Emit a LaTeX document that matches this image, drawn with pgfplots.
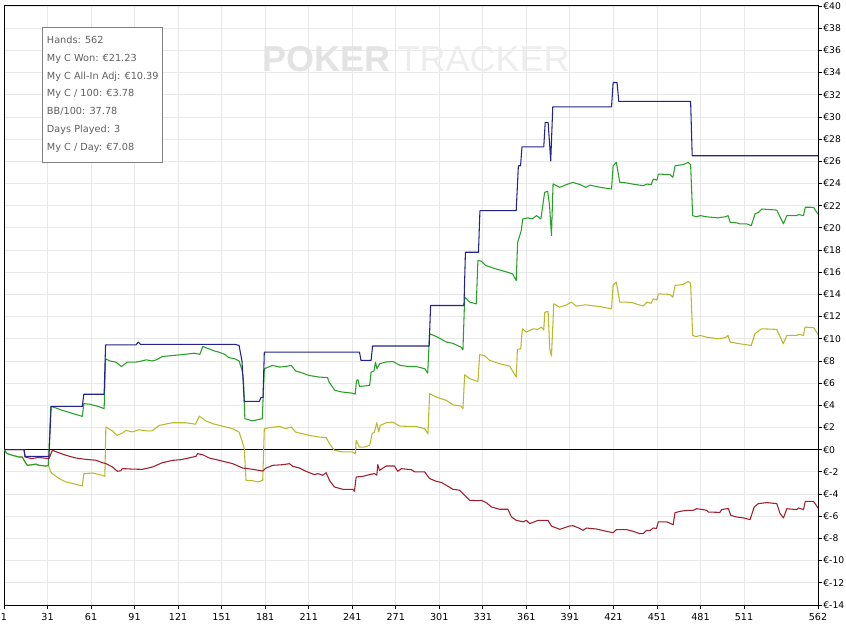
\documentclass[border=0pt]{standalone}
\usepackage{pgfplots}
\pgfplotsset{compat=1.18}
\usepackage{fontspec}
\setmainfont{DejaVu Sans}
\newfontfamily\wmfont{Liberation Sans}
\definecolor{cblue}{RGB}{35,35,140}
\definecolor{cgreen}{RGB}{40,160,40}
\definecolor{cyellow}{RGB}{185,185,45}
\definecolor{cred}{RGB}{160,30,45}
\definecolor{cgrid}{RGB}{232,232,232}
\definecolor{ctext}{RGB}{96,96,96}
\begin{document}
\begin{tikzpicture}
\begin{axis}[
  scale only axis,
  width=610.5pt, height=449.25pt,
  xmin=1, xmax=562, ymin=-14, ymax=40,
  xtick={1,31,61,91,121,151,181,211,241,271,301,331,361,391,421,451,481,511,562},
  ytick={-14,-12,...,40},
  yticklabels={€-14,€-12,€-10,€-8,€-6,€-4,€-2,€0,€2,€4,€6,€8,€10,€12,€14,€16,€18,€20,€22,€24,€26,€28,€30,€32,€34,€36,€38,€40},
  /pgf/number format/assume math mode=true,
  ytick pos=right, xtick pos=bottom,
  yticklabel pos=right,
  tick align=outside,
  major tick length=3pt,
  tick style={black, line width=0.6pt},
  axis line style={black, line width=0.75pt},
  grid=major,
  major grid style={cgrid, line width=0.6pt},
  tick label style={font=\fontsize{7.2}{8}\selectfont, text=black},
  yticklabel style={font=\fontsize{6.9}{8}\selectfont, inner xsep=0.8pt},
  every axis plot/.append style={line width=0.8pt, line join=round},
  clip=true,
]
\coordinate (tl) at (rel axis cs:0,1);
\coordinate (bl) at (rel axis cs:0,0);
\coordinate (tr) at (rel axis cs:1,1);
% watermark
\node[anchor=base west, inner sep=0, text=black!11, font=\wmfont\fontsize{27}{27}\selectfont\bfseries] at ([shift={(193.5pt,-49.5pt)}]tl) {POKER};
\node[anchor=base west, inner sep=0, text=black!7, font=\wmfont\fontsize{27}{27}\selectfont] at ([shift={(295pt,-49.5pt)}]tl) {TRACKER};
% zero line
\addplot[black, line width=0.75pt] coordinates {(1,0)(562,0)};
% yellow
\addplot[cyellow] coordinates {(1,0)(3.3,-0.36)(6.7,-0.5)(11.4,-0.66)(13.6,-0.66)(15.5,-1.1)(17.1,-1.41)(20.5,-1.35)(22.9,-1.3)(25.2,-1.41)(29.8,-1.47)(31.6,-1.41)(33.2,-2.0)(34.3,-2.16)(39,-2.6)(43.5,-2.9)(50,-3.1)(55,-3.27)(56,-2.16)(62,-2.1)(68.5,-2.3)(70.5,-2.4)(71.2,2.04)(75.7,1.7)(79,1.29)(82.6,1.5)(85,1.74)(89.5,1.6)(94,1.8)(99,1.7)(103,1.7)(108,2.19)(117,2.43)(126,2.43)(133,2.3)(135.6,3.03)(140,2.6)(145,2.34)(154,2.04)(158.6,1.9)(163,1.59)(165,0.8)(166.6,0.1)(167.8,-2.76)(172.4,-2.8)(176,-2.9)(179.3,-2.76)(180.4,1.89)(184,2.0)(191,2.1)(195,1.9)(199,2.04)(202,1.59)(211.5,1.29)(218,1.14)(223,1.1)(225.3,0.54)(228.7,-0.06)(234.5,-0.2)(241,-0.2)(243.2,-0.36)(243.7,0.84)(246,0.24)(249.4,0.24)(253,0.39)(254.7,1.44)(256.3,1.6)(257.9,2.43)(259.3,1.6)(260.3,2.19)(264.4,2.43)(269,2.49)(273.6,2.13)(280.5,2.1)(285,2.1)(291,1.89)(293.2,1.44)(294.3,5.05)(299,4.74)(306,4.44)(310.4,4.05)(316,3.93)(317.3,3.69)(318.5,6.76)(322,6.4)(327.6,6.15)(328.8,8.56)(332,8.5)(335.7,8.05)(342.6,7.75)(349.5,7.54)(353,6.76)(354.1,6.55)(354.8,9.04)(357.1,9.1)(358.3,10.9)(361,10.6)(365.6,10.9)(369,10.85)(371.4,11.05)(373,10.8)(373.7,12.4)(376,12.46)(377.1,9.1)(378.3,8.44)(379.9,13.15)(384,12.85)(388.6,13.05)(392,13.3)(395.5,12.95)(402,13.06)(411.6,12.9)(419.7,12.7)(420.8,14.86)(423,15.1)(425.4,13.3)(430,13.3)(434,13.25)(441.5,12.95)(444,13.3)(447,13.2)(448.5,13.6)(451,13.5)(452,14.05)(460,14.0)(462,13.75)(463.5,14.8)(469,14.9)(472.5,15.16)(474.2,15.0)(475.6,10.3)(478,10.2)(481,10.3)(485,10.15)(493,10.0)(498,10.1)(500,10.3)(501.5,9.7)(508,9.55)(516,9.4)(518.5,10.45)(523,10.9)(533.5,10.85)(536,10.15)(538,9.55)(540.5,10.3)(547.5,10.3)(548.5,10.4)(552,10.3)(553,11.05)(559,11.0)(562,10.39)};
% green
\addplot[cgreen] coordinates {(1,0)(3.3,-0.36)(6.7,-0.5)(11.4,-0.66)(13.6,-0.66)(15.5,-1.1)(17.1,-1.41)(20.5,-1.35)(22.9,-1.3)(25.2,-1.41)(29.8,-1.47)(31.6,-1.41)(33.2,3.9)(36,3.8)(40,3.6)(45,3.4)(50,3.2)(55,3.0)(56,4.15)(60,4.1)(66,3.9)(70,3.7)(71,8.2)(74,8.0)(78,7.9)(82,7.5)(86,7.9)(92,7.9)(96,8.0)(99,8.1)(103,8.0)(106,8.1)(110,8.4)(118,8.5)(126,8.6)(132,8.7)(136,8.6)(138,9.3)(142,9.1)(146,8.9)(149,8.8)(153,8.6)(156,8.3)(160,8.2)(163,8.0)(165,7.2)(166,6.4)(167,2.8)(172,2.6)(176,2.7)(179,2.8)(180.4,7.3)(186,7.6)(191,7.45)(195,7.5)(199,7.6)(202,7.1)(207,6.9)(211,6.7)(218,6.55)(224,6.5)(225,6.1)(229,5.35)(234,5.2)(241,5.1)(243,5.0)(244,6.25)(245,6.3)(246,5.7)(253,5.8)(254,7.0)(256,7.1)(257,7.9)(258,7.3)(260,7.75)(264,7.9)(269,7.95)(274,7.6)(280,7.5)(285,7.5)(291,7.3)(293,6.9)(294.3,10.45)(299,10.2)(306,9.7)(310,9.6)(316,9.25)(317.3,9.0)(318.5,13.75)(322,13.3)(326.5,13.15)(327.6,17.05)(330,17.0)(333,16.6)(340,16.3)(348,16.0)(351.5,15.85)(354,15.25)(355,18.7)(357.5,19.75)(358.5,20.8)(362,20.9)(365,20.8)(368,21.1)(371,20.8)(373.6,23.2)(375.7,23.3)(377,22.0)(378.3,19.3)(379.4,23.96)(384,23.65)(388.6,23.9)(393,24.1)(398,23.9)(402,23.65)(405,23.85)(412,23.65)(419.7,23.5)(420.8,25.6)(423,25.9)(425.4,24.1)(430,24.05)(434,23.95)(441.5,23.8)(444,23.95)(447,23.9)(448.5,24.4)(451,24.3)(452,24.85)(460,24.8)(462,24.55)(463.5,25.6)(469,25.7)(472.5,25.9)(474.2,25.7)(475.6,21.1)(478,21.0)(481,21.1)(485,21.0)(493,20.9)(498,21.0)(500,21.1)(501.5,20.5)(506,20.45)(508,20.36)(513,20.35)(516,20.2)(518.6,21.26)(521,21.4)(523.3,21.7)(533.6,21.6)(535.9,20.96)(538.2,20.36)(540.5,21.1)(547.4,21.1)(548.6,21.2)(552,21.1)(553.2,21.86)(558.9,21.85)(562,21.23)};
% red
\addplot[cred] coordinates {(1,0)(14.8,0)(15.5,-0.66)(20,-0.8)(25,-0.7)(32,-0.8)(34.3,-0.06)(43.6,-0.5)(50.5,-0.75)(57.4,-0.87)(64.3,-0.95)(68.8,-1.17)(71.2,-1.25)(75.7,-1.56)(79.2,-1.95)(81.5,-1.9)(82.6,-1.7)(89.5,-1.75)(96.4,-1.77)(103.3,-1.56)(110.2,-1.17)(117.2,-0.96)(122.9,-0.9)(126.4,-0.8)(133.3,-0.6)(134.4,-0.36)(137.9,-0.45)(142.5,-0.75)(149.4,-0.96)(158.6,-1.26)(165.5,-1.65)(172.4,-1.77)(179.3,-1.92)(181.6,-1.65)(186.2,-1.41)(193.1,-1.35)(197.7,-1.26)(200,-1.5)(204.6,-1.65)(209.2,-1.95)(214.9,-2.25)(217.2,-2.15)(220.7,-2.31)(223,-2.07)(225.3,-2.76)(228.7,-3.36)(234.5,-3.57)(241.4,-3.57)(242.5,-3.75)(243.7,-2.46)(248.3,-2.4)(252.9,-2.25)(256.3,-2.15)(257.9,-2.3)(258.6,-1.35)(259.8,-1.86)(264.4,-1.47)(270.1,-1.47)(272.4,-1.95)(274.8,-1.71)(281.7,-1.8)(284,-2.0)(290.9,-2.0)(294.3,-2.6)(298.9,-2.85)(302.4,-2.95)(305.8,-3.21)(310.4,-3.57)(315,-3.65)(317.3,-3.96)(321.9,-4.56)(327.6,-4.6)(330,-4.56)(333.4,-4.77)(336.9,-5.16)(342.6,-5.37)(348.3,-5.37)(350.7,-6.06)(354.1,-6.37)(358.7,-6.5)(361,-6.37)(363.3,-6.67)(369,-6.37)(375.9,-6.37)(378.3,-6.88)(384,-7.18)(390.9,-6.88)(393.2,-6.85)(397.8,-7.1)(400.1,-7.27)(402.4,-7.06)(409.3,-7.15)(416.2,-7.36)(420.8,-7.48)(423.1,-7.2)(430,-7.2)(434.6,-7.36)(439.2,-7.57)(441.5,-7.57)(443.8,-7.27)(446.1,-7.3)(448.4,-7.06)(450.7,-7.1)(451.9,-6.5)(457.7,-6.5)(462.2,-6.76)(463.4,-5.68)(466.8,-5.56)(471.5,-5.47)(476,-5.47)(478.4,-5.32)(482.9,-5.4)(485.3,-5.47)(486.4,-5.62)(494.4,-5.65)(495.6,-5.4)(499.1,-5.32)(500.2,-5.32)(501.9,-5.92)(506,-6.07)(510.6,-6.15)(515.2,-6.3)(518,-5.17)(520.9,-4.86)(526.7,-4.77)(533.6,-4.86)(535.9,-5.77)(538.2,-6.15)(540.5,-5.32)(547.4,-5.4)(548.6,-5.25)(552,-5.4)(553.2,-4.66)(558.9,-4.66)(562,-5.25)};
% blue
\addplot[cblue] coordinates {(1,0)(14.8,0)(15.5,-0.6)(32,-0.6)(33.5,3.9)(55,3.9)(56,5.0)(70,5.0)(71,9.45)(92,9.45)(93.5,9.7)(95,9.5)(160,9.5)(163,9.4)(165,8.0)(166.6,4.35)(177,4.35)(178,4.7)(179.5,4.7)(180.4,8.8)(246,8.8)(247,8.05)(254,8.05)(255,9.35)(294,9.35)(295,13.0)(318,13.0)(319,17.8)(328,17.8)(329,21.55)(354,21.55)(355.5,25.6)(357,25.6)(358,27.3)(373,27.3)(374,29.5)(376,29.5)(377.8,26.05)(379.2,30.9)(419.7,30.9)(420.8,33.1)(423.5,33.1)(424.7,31.4)(474.2,31.4)(475.3,26.5)(562,26.5)};
% stats box
\fill[white] ([shift={(28.5pt,-16.5pt)}]tl) rectangle ([shift={(118.5pt,-117.75pt)}]tl);
\draw[black!50, line width=0.75pt] ([shift={(28.5pt,-16.5pt)}]tl) rectangle ([shift={(118.5pt,-117.75pt)}]tl);
\begin{scope}[every node/.style={anchor=base west, inner sep=0, text=ctext, font=\fontsize{7.3}{8}\selectfont}]
\node at ([shift={(32pt,-28.1pt)}]tl) {Hands: 562};
\node at ([shift={(32pt,-41.45pt)}]tl) {My C Won: €21.23};
\node at ([shift={(32pt,-54.8pt)}]tl) {My C All-In Adj: €10.39};
\node at ([shift={(32pt,-68.15pt)}]tl) {My C / 100: €3.78};
\node at ([shift={(32pt,-81.5pt)}]tl) {BB/100: 37.78};
\node at ([shift={(32pt,-94.85pt)}]tl) {Days Played: 3};
\node at ([shift={(32pt,-108.2pt)}]tl) {My C / Day: €7.08};
\end{scope}
\end{axis}
\pgfresetboundingbox
\useasboundingbox ([shift={(-3pt,-15.75pt)}]bl) rectangle ([shift={(21pt,4.5pt)}]tr);
\end{tikzpicture}
\end{document}
